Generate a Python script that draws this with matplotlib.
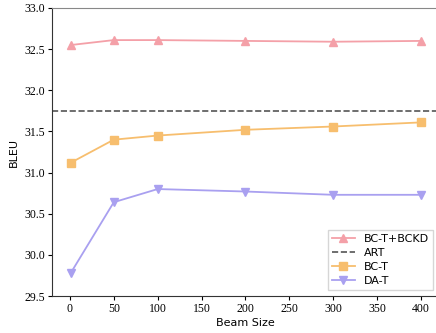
import matplotlib
matplotlib.use("Agg")
import matplotlib.pyplot as plt

beam = [1, 50, 100, 200, 300, 400]
bckd = [32.55, 32.61, 32.61, 32.60, 32.59, 32.60]
art = 31.75
bct = [31.12, 31.40, 31.45, 31.52, 31.56, 31.61]
dat = [29.78, 30.64, 30.80, 30.77, 30.73, 30.73]
xticks = [0, 50, 100, 150, 200, 250, 300, 350, 400]
yticks = [29.5, 30.0, 30.5, 31.0, 31.5, 32.0, 32.5, 33.0]

fig = plt.figure(figsize=(4.36, 3.33), dpi=100)
ax = fig.add_axes([0.119, 0.111, 0.887, 0.865])

ax.plot(beam, bckd, color="#F4A0A8", marker="^", markersize=5.5, lw=1.3, label="BC-T+BCKD")
ax.axhline(art, color="#555555", ls="--", lw=1.2, label="ART")
ax.plot(beam, bct, color="#F7BE6E", marker="s", markersize=5.5, lw=1.3, label="BC-T")
ax.plot(beam, dat, color="#A9A0F0", marker="v", markersize=5.5, lw=1.3, label="DA-T")

ax.set_xlim(-20.5, 420)
ax.set_ylim(29.5, 33.0)
ax.set_xticks(xticks)
ax.set_yticks(yticks)
ax.set_xticklabels([str(t) for t in xticks], family="Liberation Serif", fontsize=8.5)
ax.set_yticklabels([f"{t:.1f}" for t in yticks], family="Liberation Serif", fontsize=8.5)
ax.set_xlabel("Beam Size", fontsize=8, labelpad=2)
ax.set_ylabel("BLEU", fontsize=8, labelpad=4)
for s in ["left", "bottom"]:
    ax.spines[s].set_color("#333333")
ax.spines["top"].set_color("#888888")
ax.tick_params(length=3, width=0.8, pad=2)
ax.legend(loc="lower right", fontsize=8, frameon=True, fancybox=False,
          borderaxespad=0.5, labelspacing=0.35, handlelength=2.0)

fig.savefig("out.png", dpi=100)
